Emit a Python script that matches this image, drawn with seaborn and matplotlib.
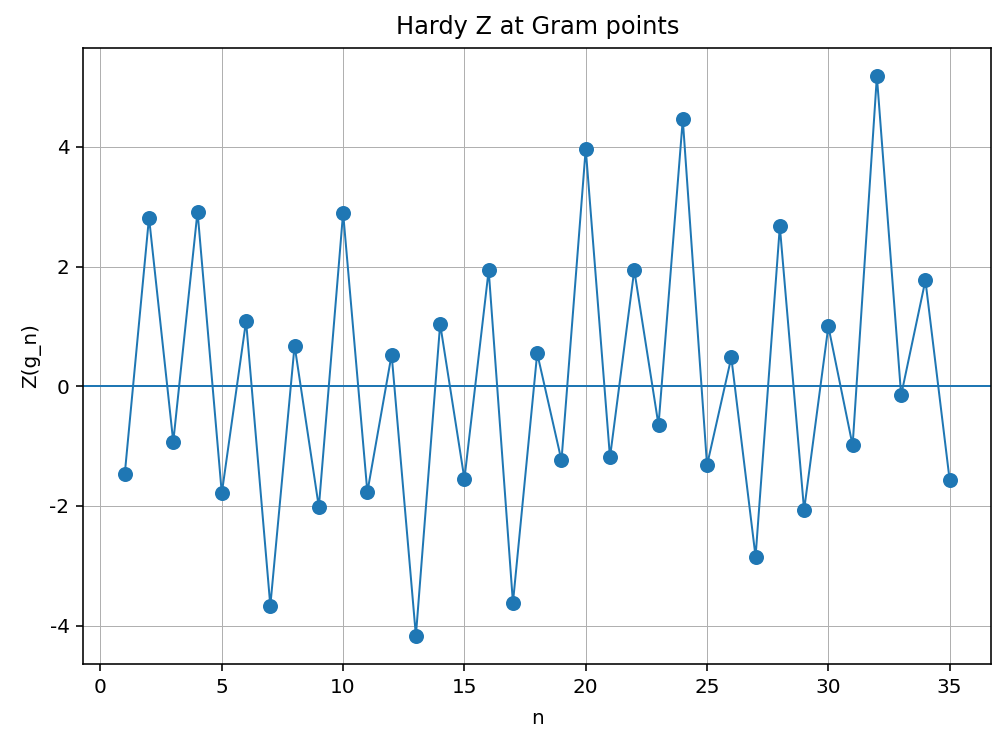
import matplotlib
matplotlib.use("Agg")
from matplotlib import pyplot as plt
import seaborn as sns
import numpy as np

n = list(range(1, 36))
z = [-1.47, 2.82, -0.93, 2.92, -1.79, 1.09, -3.67, 0.68, -2.02, 2.90,
     -1.77, 0.53, -4.17, 1.04, -1.55, 1.94, -3.62, 0.55, -1.24, 3.97,
     -1.19, 1.94, -0.65, 4.46, -1.32, 0.48, -2.85, 2.67, -2.07, 1.00,
     -0.99, 5.18, -0.15, 1.77, -1.57]

plt.rcParams['axes.unicode_minus'] = False  # plain hyphen minus like the reference

fig, ax = plt.subplots(figsize=(1006 / 144, 744 / 144), dpi=144)
sns.lineplot(x=n, y=z, marker='o', markersize=7.5, markeredgewidth=0,
             linewidth=1, color='C0', ax=ax)
ax.axhline(0, color='C0', linewidth=1)  # zero line

ax.set_title('Hardy Z at Gram points', pad=7)
ax.set_xlabel('n', labelpad=6)
ax.set_ylabel('Z(g_n)')
ax.grid(True, color='#b0b0b0', linewidth=0.5)

fig.subplots_adjust(left=0.083, right=0.985, top=0.935, bottom=0.108)
fig.savefig('out.png', dpi=144)
